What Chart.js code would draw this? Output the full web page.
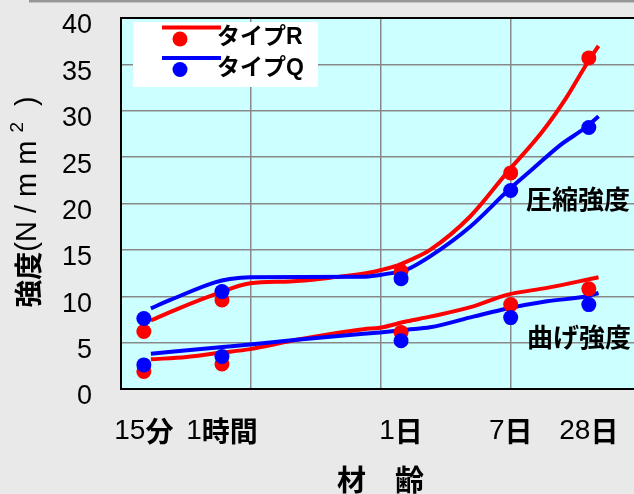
<!DOCTYPE html>
<html>
<head>
<meta charset="utf-8">
<script src="https://cdn.jsdelivr.net/npm/chart.js@4"></script>
<style>
  html, body { margin: 0; padding: 0; background: #e9e9e9; overflow: hidden; }
  #wrap { position: relative; width: 660px; height: 494px; }
  #topbar { position: absolute; left: 29px; top: 0; width: 640px; height: 2px;
            background: #969696; border-bottom: 1px solid #c4c4c4; }
</style>
</head>
<body>
<div id="wrap">
  <div id="topbar"></div>
  <canvas id="myChart" width="660" height="494"></canvas>
</div>
<script>
// 材齢 (minutes) and labels
const ageLabels = ['15分', '1時間', '1日', '7日', '28日'];
const ageMinutes = [15, 60, 1440, 10080, 40320];

// measured values (N/mm2)
const compR = [6.2, 9.6, 12.7, 23.3, 35.7];
const compQ = [7.6, 10.5, 11.9, 21.4, 28.2];
const bendR = [1.9, 2.7, 6.1, 9.1, 10.8];
const bendQ = [2.6, 3.5, 5.2, 7.7, 9.1];

// smoothed curves
const compRCurveX = [17, 28, 53, 99, 200, 410, 790, 990, 1340, 1690, 2410, 4910, 9400, 18000, 27300, 39000, 47900];
const compRCurveY = [7.4, 8.7, 10.2, 11.4, 11.6, 12.0, 12.5, 12.8, 13.3, 13.9, 15.0, 18.6, 23.3, 27.9, 31.5, 35.1, 37.0];
const compQCurveX = [17, 24, 53, 69, 99, 730, 990, 1340, 1610, 2410, 4910, 9700, 15100, 24300, 39000, 47900];
const compQCurveY = [8.7, 9.6, 11.5, 11.85, 12.05, 12.1, 12.3, 12.6, 12.9, 14.3, 17.5, 21.45, 23.8, 26.3, 28.3, 29.4];
const bendRCurveX = [17, 32, 58, 99, 226, 740, 990, 1600, 2410, 5200, 9400, 19200, 47900];
const bendRCurveY = [3.2, 3.45, 3.9, 4.3, 5.3, 6.45, 6.6, 7.3, 7.8, 8.9, 10.15, 10.9, 12.05];
const bendQCurveX = [17, 58, 99, 226, 740, 990, 1600, 2410, 5200, 9700, 19200, 39000, 47900];
const bendQCurveY = [3.8, 4.5, 4.8, 5.3, 5.95, 6.1, 6.4, 6.65, 7.8, 8.7, 9.45, 10.0, 10.35];

const yTicks = [0, 5, 10, 15, 20, 25, 30, 35, 40];
const gridDecades = [10, 100, 1000, 10000, 100000];

const RED = '#ff0000';
const BLUE = '#0000ff';
const FAM = '"Liberation Sans", "Noto Sans CJK JP", sans-serif';
const JFAM = '"Noto Sans CJK JP", sans-serif';

function pts(xs, ys) {
    return xs.map((x, i) => ({x: x, y: ys[i]}));
}

function curve(xs, ys, color, order) {
    return {
        data: pts(xs, ys),
        borderColor: color,
        borderWidth: 4,
        pointRadius: 0,
        cubicInterpolationMode: 'monotone',
        fill: false,
        order: order
    };
}

function marks(ys, color, order) {
    return {
        data: pts(ageMinutes, ys),
        showLine: false,
        pointRadius: 7.5,
        pointBackgroundColor: color,
        pointBorderWidth: 0,
        order: order
    };
}

// draw a string made of pieces in different fonts
function drawParts(ctx, parts, x, y, align) {
    let w = 0;
    parts.forEach(p => { ctx.font = p[1]; w += ctx.measureText(p[0]).width; });
    let cx = align === 'center' ? x - w / 2 : x;
    parts.forEach(p => {
        ctx.font = p[1];
        ctx.fillText(p[0], cx, y + (p[2] || 0));
        cx += ctx.measureText(p[0]).width;
    });
}

const decor = {
    id: 'decor',
    beforeDraw(chart) {
        const {ctx, chartArea: a} = chart;
        ctx.save();
        ctx.fillStyle = '#ccffff';
        ctx.fillRect(a.left, a.top, a.right - a.left, a.bottom - a.top);
        ctx.restore();
    },
    afterDraw(chart) {
        const {ctx, chartArea: a} = chart;
        const xs = chart.scales.x;
        ctx.save();
        // plot frame
        ctx.strokeStyle = '#000';
        ctx.lineWidth = 2;
        ctx.strokeRect(a.left, a.top, a.right - a.left, a.bottom - a.top);

        // legend
        ctx.fillStyle = '#fff';
        ctx.fillRect(133, 22, 185, 65);
        [[RED, 27.5, 39, 'タイプR'], [BLUE, 58, 69.5, 'タイプQ']].forEach(r => {
            ctx.strokeStyle = r[0];
            ctx.lineWidth = 4;
            ctx.beginPath();
            ctx.moveTo(162, r[1]);
            ctx.lineTo(221, r[1]);
            ctx.stroke();
            ctx.fillStyle = r[0];
            ctx.beginPath();
            ctx.arc(180, r[2], 7.5, 0, Math.PI * 2);
            ctx.fill();
            ctx.fillStyle = '#000';
            ctx.textBaseline = 'middle';
            ctx.textAlign = 'left';
            ctx.font = 'bold 23px ' + FAM;
            ctx.fillText(r[3], 217, r[2] - 1);
        });

        // annotations
        ctx.font = 'bold 26px ' + FAM;
        ctx.fillText('圧縮強度', 526, 202);
        ctx.fillText('曲げ強度', 527, 340);

        // x tick labels: regular digits + bold kanji
        ctx.textAlign = 'left';
        ageLabels.forEach((lab, i) => {
            const m = lab.match(/^(\d+)(.*)$/);
            drawParts(ctx, [[m[1], '28px "Liberation Sans"'], [m[2], 'bold 28px ' + JFAM]],
                xs.getPixelForValue(ageMinutes[i]), 431, 'center');
        });

        // y title, rotated
        ctx.translate(28, 202);
        ctx.rotate(-Math.PI / 2);
        drawParts(ctx, [
            ['強度', 'bold 28px ' + JFAM],
            ['(N / m m ', '29px "Liberation Sans"'],
            ['2', '19px "Liberation Sans"', -10],
            ['  )', '29px "Liberation Sans"']
        ], 0, 0, 'center');
        ctx.restore();
    }
};

new Chart(document.getElementById('myChart'), {
    type: 'line',
    data: {
        datasets: [
            marks(compQ, BLUE, 0),
            marks(bendQ, BLUE, 0),
            marks(compR, RED, 1),
            marks(bendR, RED, 1),
            curve(compQCurveX, compQCurveY, BLUE, 2),
            curve(bendQCurveX, bendQCurveY, BLUE, 2),
            curve(compRCurveX, compRCurveY, RED, 3),
            curve(bendRCurveX, bendRCurveY, RED, 3)
        ]
    },
    options: {
        responsive: false,
        animation: false,
        layout: {padding: {top: 18, right: 20, left: 0, bottom: 0}},
        plugins: {legend: {display: false}, tooltip: {enabled: false}},
        scales: {
            x: {
                type: 'logarithmic',
                position: 'bottom',
                min: 10,
                max: 100000,
                afterBuildTicks: s => { s.ticks = gridDecades.map(v => ({value: v})); },
                afterFit: s => { s.height = 105; s.paddingLeft = 0; s.paddingRight = 0; },
                ticks: {display: false},
                grid: {color: '#888', lineWidth: 1.5, drawTicks: false},
                border: {display: false},
                title: {
                    display: true,
                    text: '材　齢',
                    color: '#000',
                    font: {family: JFAM, size: 29, weight: 'bold', lineHeight: 1},
                    padding: {top: 0, bottom: 0}
                }
            },
            y: {
                min: 0,
                max: 40,
                afterBuildTicks: s => { s.ticks = yTicks.map(v => ({value: v})); },
                afterFit: s => { s.width = 121; s.paddingTop = 0; s.paddingBottom = 0; },
                ticks: {
                    color: '#000',
                    padding: 29,
                    labelOffset: 8,
                    font: {family: '"Liberation Sans"', size: 27}
                },
                grid: {color: '#888', lineWidth: 1.5, drawTicks: false},
                border: {display: false}
            }
        }
    },
    plugins: [decor]
});
</script>
</body>
</html>
